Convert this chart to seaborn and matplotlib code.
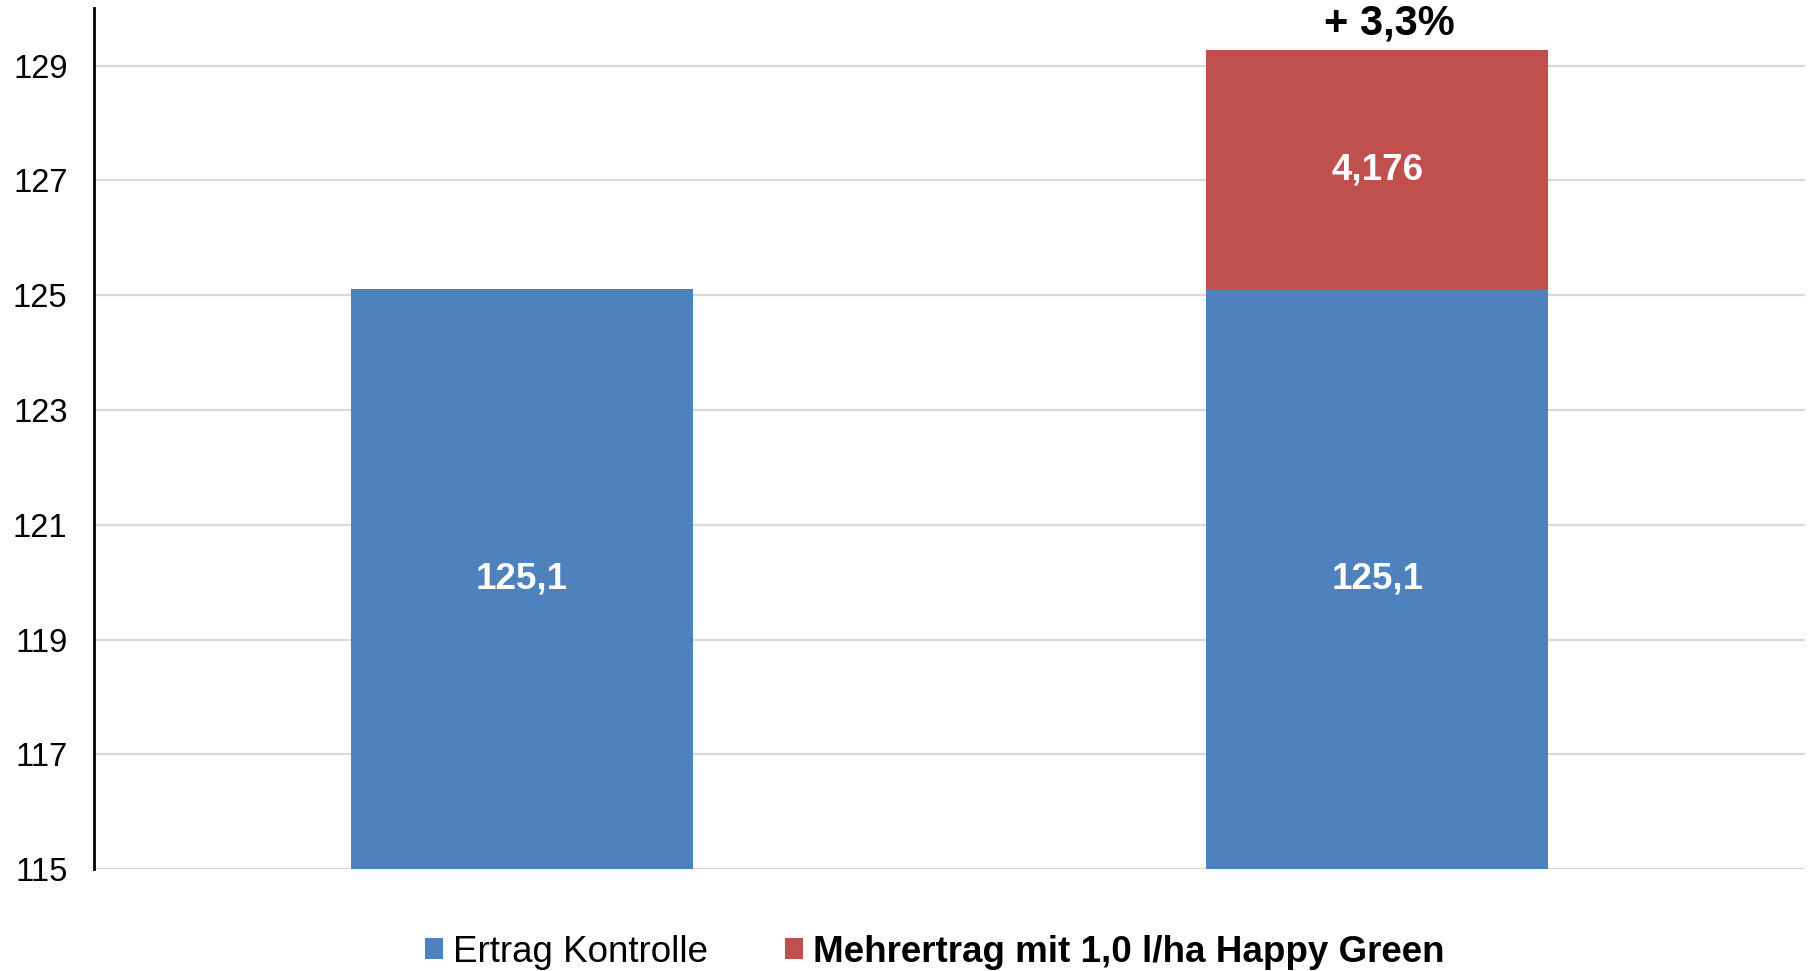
import matplotlib
matplotlib.use("Agg")
import matplotlib.pyplot as plt
import seaborn as sns
import pandas as pd
from matplotlib.patches import Patch

# Yield data (dt/ha)
categories = ["Kontrolle", "Happy Green"]
ertrag_kontrolle = [125.1, 125.1]
mehrertrag = [0.0, 4.176]
series_names = ["Ertrag Kontrolle", "Mehrertrag mit 1,0 l/ha Happy Green"]
y_ticks = [115, 117, 119, 121, 123, 125, 127, 129]

BLUE = "#4F81BD"
RED = "#C0504D"
GRID = "#D9D9D9"

sns.set_theme(style="white")
plt.rcParams["font.family"] = ["Liberation Sans", "DejaVu Sans"]
plt.rcParams["text.color"] = "black"

totals = [b + e for b, e in zip(ertrag_kontrolle, mehrertrag)]
df_total = pd.DataFrame({"Variante": categories, "Wert": totals})
df_base = pd.DataFrame({"Variante": categories, "Wert": ertrag_kontrolle})

fig = plt.figure(figsize=(18.14, 9.71), dpi=100)
ax = fig.add_axes([0.0518, 0.105, 0.995 - 0.0518, 0.9915 - 0.105])

# stacked bars: total (red) underneath, control (blue) on top
sns.barplot(data=df_total, x="Variante", y="Wert", order=categories,
            color=RED, saturation=1, width=0.4, ax=ax, zorder=2,
            linewidth=0, edgecolor="none")
sns.barplot(data=df_base, x="Variante", y="Wert", order=categories,
            color=BLUE, saturation=1, width=0.4, ax=ax, zorder=3,
            linewidth=0, edgecolor="none")

ax.set_ylim(115, 130)
ax.set_xlim(-0.5, 1.5)
ax.set_yticks(y_ticks)
ax.set_yticklabels([str(t) for t in y_ticks])
ax.tick_params(axis="y", length=0, pad=19, labelsize=23.5, labelcolor="black")
ax.set_xticks([])
ax.set_xlabel("")
ax.set_ylabel("")
ax.yaxis.grid(True, color=GRID, linewidth=1.6, zorder=0)
ax.set_axisbelow(True)
for side in ["top", "right", "bottom"]:
    ax.spines[side].set_visible(False)
ax.spines["left"].set_color("black")
ax.spines["left"].set_linewidth(2)

ymin = 115
for i, (b, e) in enumerate(zip(ertrag_kontrolle, mehrertrag)):
    ax.text(i, (ymin + b) / 2, f"{b:.1f}".replace(".", ","), ha="center", va="center",
            color="white", fontsize=26.5, fontweight="bold", zorder=5)
    if e > 0:
        ax.text(i, b + e / 2, f"{e:.3f}".replace(".", ","), ha="center", va="center",
                color="white", fontsize=26.5, fontweight="bold", zorder=5)
        pct = e / b * 100
        ax.annotate(f"+ {pct:.1f}%".replace(".", ","), xy=(i, b + e), xytext=(9, 11),
                    textcoords="offset points", ha="center", va="baseline",
                    fontsize=30, fontweight="bold", color="black", annotation_clip=False)

handles = [Patch(facecolor=BLUE, edgecolor="none"), Patch(facecolor=RED, edgecolor="none")]
leg = fig.legend(handles, series_names, loc="center", bbox_to_anchor=(0.5154, 0.0195),
                 ncol=2, frameon=False, fontsize=26.5, handlelength=0.48, handleheight=0.48,
                 handletextpad=0.28, columnspacing=2.1, borderaxespad=0, labelcolor="black")
leg.get_texts()[1].set_fontweight("bold")

fig.savefig("out.png", dpi=100)
